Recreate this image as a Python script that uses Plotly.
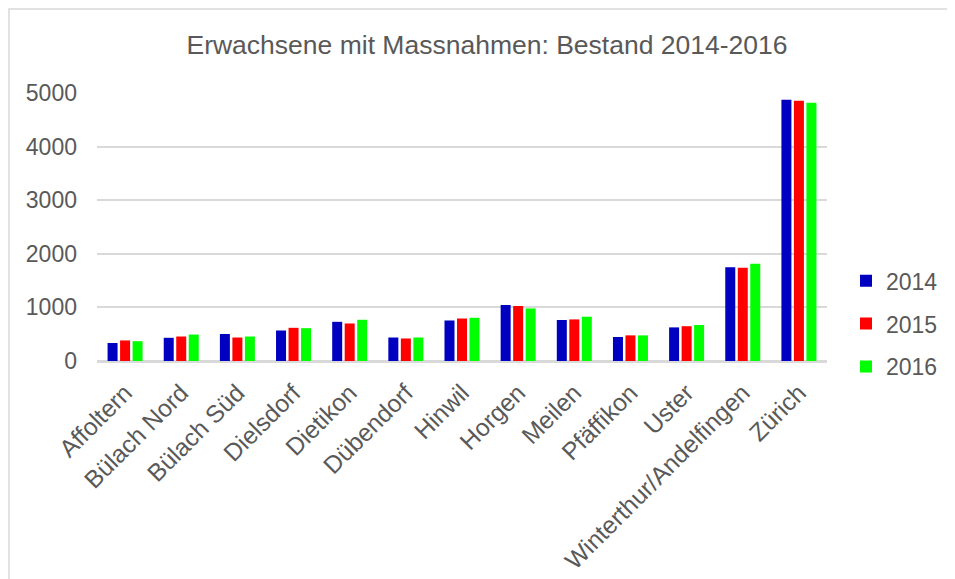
import plotly.graph_objects as go

categories = ["Affoltern", "Bülach Nord", "Bülach Süd", "Dielsdorf", "Dietikon",
              "Dübendorf", "Hinwil", "Horgen", "Meilen", "Pfäffikon", "Uster",
              "Winterthur/Andelfingen", "Zürich"]
v2014 = [336, 433, 504, 569, 731, 438, 756, 1045, 765, 448, 627, 1750, 4873]
v2015 = [384, 457, 438, 619, 700, 420, 793, 1026, 776, 478, 649, 1739, 4854]
v2016 = [370, 494, 457, 612, 769, 438, 806, 981, 826, 478, 672, 1813, 4817]
years = ["2014", "2015", "2016"]
colors = ["#0000C0", "#FF0000", "#00FF00"]
ytickvals = [0, 1000, 2000, 3000, 4000, 5000]

FONT = "Liberation Sans, Arial, sans-serif"
TXT = "#595959"
GRID = "#D9D9D9"

# page body has an 8px margin; figure coordinates are offset accordingly
OFF = 8
W, H = 955 - OFF, 579 - OFF
L, T = 97 - OFF, 93 - OFF
R, B = 128, 218
PW = W - L - R
PH = H - T - B

fig = go.Figure()
for name, vals, col in zip(years, [v2014, v2015, v2016], colors):
    fig.add_trace(go.Bar(x=categories, y=vals, name=name, legendgroup=name,
                         marker=dict(color=col, line=dict(width=0))))

fig.update_layout(
    width=W, height=H,
    margin=dict(l=L, r=R, t=T, b=B, autoexpand=False),
    paper_bgcolor="white", plot_bgcolor="white",
    barmode="group", bargap=0.332, bargroupgap=0.2,
    font=dict(family=FONT, color=TXT, size=23),
    title=dict(text="Erwachsene mit Massnahmen: Bestand 2014-2016",
               font=dict(family=FONT, color=TXT, size=26.5),
               x=(487 - OFF) / W, xanchor="center", y=1 - (45 - OFF) / H,
               yanchor="middle"),
    legend=dict(x=(846 - 97) / PW, xanchor="left", y=0.139, yanchor="middle",
                font=dict(family=FONT, color=TXT, size=23),
                tracegroupgap=10, bgcolor="rgba(0,0,0,0)"),
    showlegend=True,
    xaxis=dict(showgrid=False, showline=True, linecolor=GRID, linewidth=1.5,
               tickangle=-45, ticks="", ticklabelstandoff=6,
               tickfont=dict(family=FONT, color=TXT, size=24.5)),
    yaxis=dict(range=[0, 5000], tickvals=ytickvals, showgrid=True,
               gridcolor=GRID, gridwidth=1.5, zeroline=True, zerolinecolor=GRID,
               zerolinewidth=1.5, showline=False, ticks="", ticklabelstandoff=19,
               tickfont=dict(family=FONT, color=TXT, size=23)),
    shapes=[dict(type="rect", xref="paper", yref="paper",
                 x0=(1 - L) / PW, x1=1.4, y0=-1.5, y1=(PH + T - 1) / PH,
                 line=dict(color=GRID, width=1.5), fillcolor="rgba(0,0,0,0)",
                 layer="below")],
)

fig.write_html("out.html")
